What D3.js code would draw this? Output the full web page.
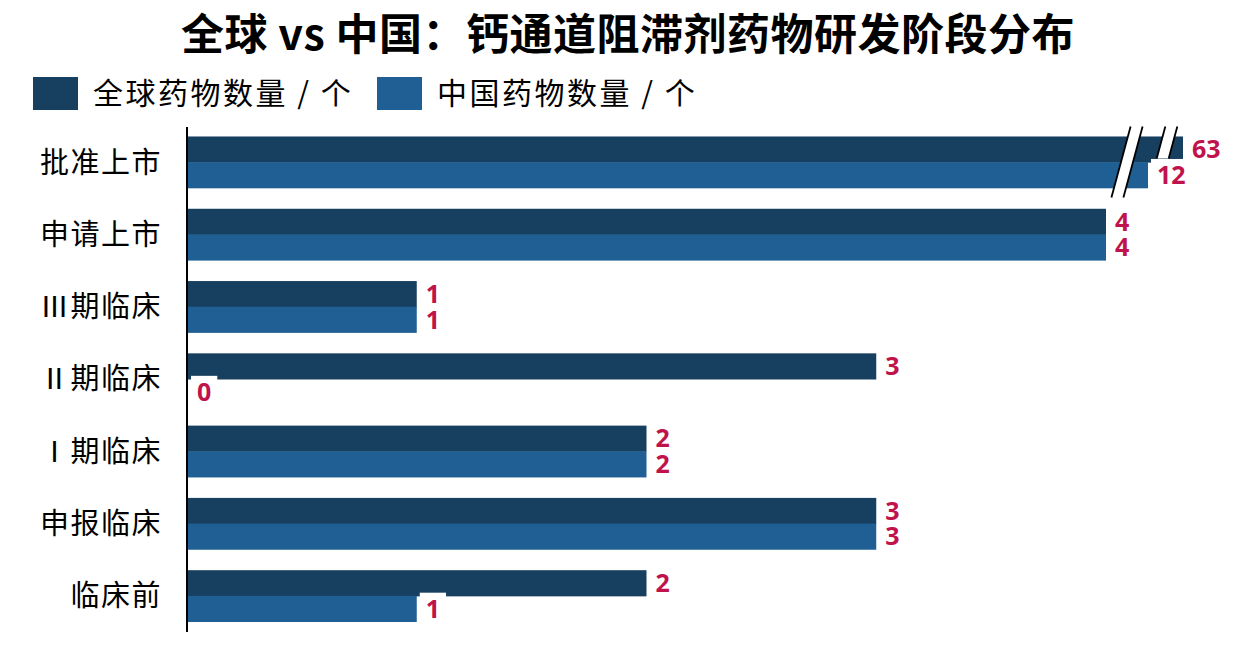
<!DOCTYPE html>
<html><head><meta charset="utf-8">
<script src="https://cdn.jsdelivr.net/npm/d3@7/dist/d3.min.js"></script>
<style>body{margin:0;background:#fff}svg{display:block}</style>
</head><body><svg id="c" width="1248" height="648"></svg>
<script>
const categories = ["批准上市","申请上市","Ⅲ期临床","Ⅱ期临床","Ⅰ期临床","申报临床","临床前"];
const globalValues = [63,4,1,3,2,3,2];
const chinaValues = [12,4,1,0,2,3,1];
const seriesNames = ["全球药物数量 / 个","中国药物数量 / 个"];
const title = "全球 vs 中国：钙通道阻滞剂药物研发阶段分布";

const colors = ["#173f5f","#1f5f93"];
const labelColor = "#c0124b";
const cjk = "'Noto Sans CJK SC','Noto Sans',sans-serif";
const svg = d3.select("#c");
const x0 = 187;
// broken scale: linear 0-4, compressed beyond
const x = d3.scaleLinear().domain([0,4,12,63]).range([x0, x0+919, x0+961, x0+996]);
const y = d3.scaleBand().domain(categories).range([126,632]).paddingInner(0.29).paddingOuter(0.145);
const sub = d3.scaleBand().domain([0,1]).range([0,y.bandwidth()]);

// title
svg.append("text").attr("x",628).attr("y",50).attr("text-anchor","middle")
  .attr("font-family",cjk).attr("font-size",43).attr("font-weight",700).attr("fill","#000")
  .attr("letter-spacing",0.5).text(title);

// legend
const lg = [{x:33,tx:93},{x:377,tx:437}];
seriesNames.forEach((n,i)=>{
  svg.append("rect").attr("x",lg[i].x).attr("y",77).attr("width",45).attr("height",33).attr("fill",colors[i]);
  svg.append("text").attr("x",lg[i].tx).attr("y",104).attr("font-family",cjk).attr("font-size",30)
    .attr("letter-spacing",2.5).attr("fill","#000").text(n);
});

// bars
const data = categories.map((c,i)=>({c, v:[globalValues[i], chinaValues[i]]}));
const g = svg.append("g");
data.forEach(d=>{
  d.v.forEach((v,k)=>{
    g.append("rect").attr("x",x(0)).attr("y",y(d.c)+sub(k)).attr("width",x(v)-x(0))
      .attr("height",sub.bandwidth()+0.5).attr("fill",colors[k]);
  });
});

// break marks on first category
function brk(cx, y1, y2){
  const s = 0.27, w = 12;
  const ym = (y1+y2)/2;
  const top = cx + s*(ym-y1), bot = cx - s*(y2-ym);
  svg.append("polygon").attr("points",[[top-w/2,y1],[top+w/2,y1],[bot+w/2,y2],[bot-w/2,y2]].join(" ")).attr("fill","#fff");
  [-w/2,w/2].forEach(o=>svg.append("line").attr("x1",top+o).attr("y1",y1).attr("x2",bot+o).attr("y2",y2)
    .attr("stroke","#000").attr("stroke-width",1.8));
}
const yb = y(categories[0]);
brk(x(12)-21, yb-10, yb+61);
brk(x(63)-16, yb-10, yb+22);

// value labels
const lab = svg.append("g");
data.forEach(d=>{
  d.v.forEach((v,k)=>{
    const cy = y(d.c)+sub(k)+sub.bandwidth()/2;
    const lx = x(v)+ (v===0?10:9);
    const t = lab.append("text").attr("x",lx).attr("y",cy).attr("dy","0.36em")
      .attr("font-family","'Open Sans',sans-serif").attr("font-weight",700).attr("font-size",25)
      .attr("fill",labelColor).text(v);
    const w = t.node().getComputedTextLength();
    lab.insert("rect","text").attr("x",lx-6).attr("y",cy-16).attr("width",w+12).attr("height",30).attr("fill","#fff");
  });
});
lab.selectAll("rect").lower();

// axis line
svg.append("line").attr("x1",x0).attr("x2",x0).attr("y1",127).attr("y2",632).attr("stroke","#000").attr("stroke-width",2);

// category labels
svg.append("g").selectAll("text").data(categories).join("text")
  .attr("x",162).attr("y",d=>y(d)+y.bandwidth()/2).attr("dy","0.36em").attr("text-anchor","end")
  .attr("font-family",cjk).attr("font-size",29).attr("letter-spacing",1.5).attr("fill","#000").text(d=>d);
</script></body></html>
